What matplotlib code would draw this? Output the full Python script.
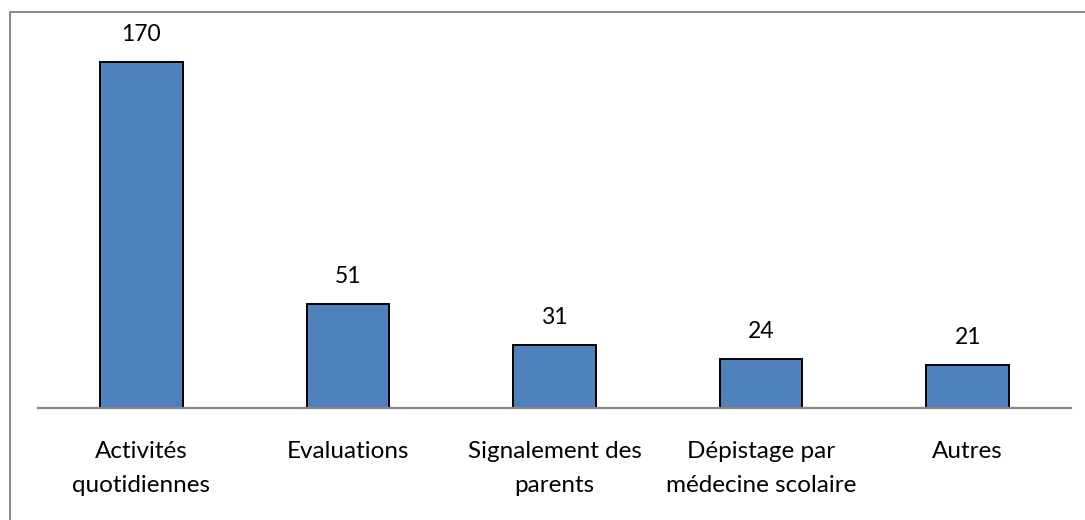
import matplotlib
matplotlib.use("Agg")
import matplotlib.pyplot as plt
from matplotlib.patches import Rectangle

# data
categories = ["Activités\nquotidiennes", "Evaluations", "Signalement des\nparents",
              "Dépistage par\nmédecine scolaire", "Autres"]
values = [170, 51, 31, 24, 21]

plt.rcParams['font.family'] = ['Lato', 'DejaVu Sans']

fig = plt.figure(figsize=(10.85, 5.2), dpi=100)

# outer chart frame (left and top edges visible)
fig.patches.append(Rectangle((10 / 1085, -0.1), 1.2, (520 - 12) / 520 + 0.1,
                             transform=fig.transFigure, fill=False,
                             edgecolor='#8c8c8c', linewidth=1.5))

ax = fig.add_axes([38 / 1085, (520 - 408) / 520, 1033 / 1085, 366 / 520])
x = range(len(values))
bars = ax.bar(x, values, width=0.4, color='#4F81BD', edgecolor='black', linewidth=1.4, zorder=2)

for xi, v in zip(x, values):
    ax.annotate(str(v), (xi, v), xytext=(0, 12.5), textcoords='offset points',
                ha='center', va='bottom', fontsize=16.5)

ax.set_xlim(-0.5, len(values) - 0.5)
ax.set_ylim(0, 180)
ax.set_xticks(list(x))
ax.set_xticklabels(categories, fontsize=17.5, linespacing=1.72)
ax.tick_params(axis='x', length=0, pad=24)
ax.set_yticks([])
for s in ['top', 'right', 'left']:
    ax.spines[s].set_visible(False)
ax.spines['bottom'].set_color('#868686')
ax.spines['bottom'].set_linewidth(1.6)
ax.spines['bottom'].set_zorder(3)

fig.savefig("out.png", dpi=100)
